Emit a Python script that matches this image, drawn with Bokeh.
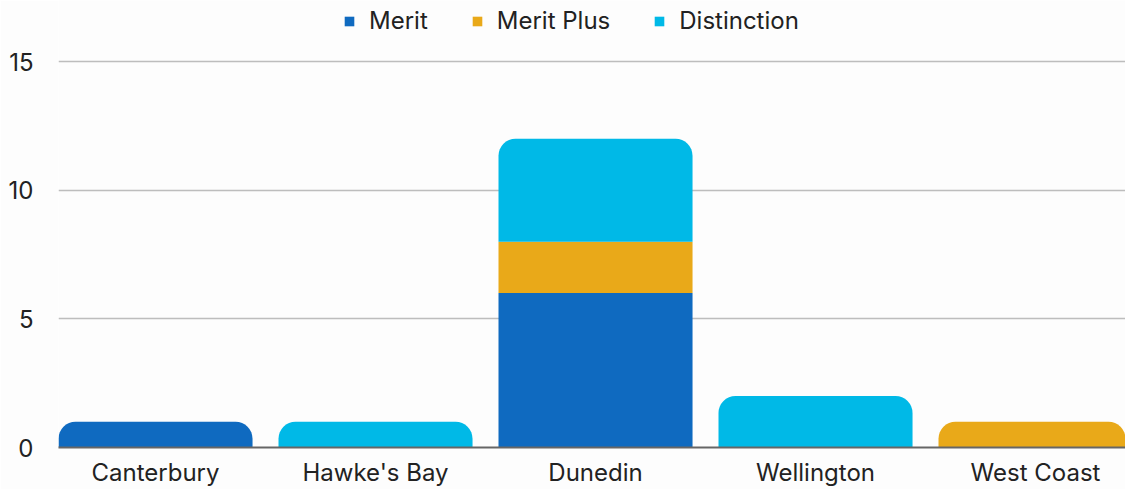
from bokeh.plotting import figure
from bokeh.models import ColumnDataSource, Range1d, FixedTicker, Legend, LegendItem
from bokeh.embed import file_html
from bokeh.resources import INLINE

regions = ["Canterbury", "Hawke's Bay", "Dunedin", "Wellington", "West Coast"]
series_names = ["Merit", "Merit Plus", "Distinction"]
merit = [1, 0, 6, 0, 0]
merit_plus = [0, 0, 2, 0, 1]
distinction = [0, 1, 4, 2, 0]
colors = ["#0F6AC0", "#E9A919", "#00B9E7"]
y_ticks = [0, 5, 10, 15]

FONT = "Inter"
W, H = 1125, 489
LEFT = 58
BOTTOM = 42
PX_PER_CAT = 220.0
PX_PER_UNIT = 25.73
x_start = -0.441
x_end = x_start + (W - LEFT) / PX_PER_CAT
y_end = (H - BOTTOM) / PX_PER_UNIT

p = figure(width=W, height=H, output_backend="svg", toolbar_location=None,
           x_range=Range1d(x_start, x_end), y_range=Range1d(0, y_end),
           min_border_left=LEFT, min_border_right=0, min_border_top=0,
           min_border_bottom=BOTTOM)
p.background_fill_color = "#fdfdfd"
p.border_fill_color = "#fdfdfd"
p.outline_line_color = None

values = [merit, merit_plus, distinction]
xs = list(range(len(regions)))
bottoms = [0.0] * len(regions)
legend_items = []
for s, (name, vals, col) in enumerate(zip(series_names, values, colors)):
    top_d = dict(x=[], bottom=[], top=[])
    in_d = dict(x=[], bottom=[], top=[])
    for i, v in enumerate(vals):
        if v <= 0:
            continue
        is_top = all(values[k][i] <= 0 for k in range(s + 1, len(values)))
        d = top_d if is_top else in_d
        d["x"].append(xs[i]); d["bottom"].append(bottoms[i]); d["top"].append(bottoms[i] + v)
        bottoms[i] += v
    rs = []
    if in_d["x"]:
        rs.append(p.vbar(x="x", bottom="bottom", top="top", width=0.882, source=ColumnDataSource(in_d),
                         fill_color=col, line_color=None))
    if top_d["x"]:
        rs.append(p.vbar(x="x", bottom="bottom", top="top", width=0.882, source=ColumnDataSource(top_d),
                         fill_color=col, line_color=None, border_radius=(17, 17, 0, 0)))
    legend_items.append(LegendItem(label=name, renderers=[rs[0]], index=0))

legend = Legend(items=legend_items, orientation="horizontal", location=(285, 412),
                glyph_width=12, glyph_height=12, label_standoff=14, spacing=43,
                label_text_font=FONT, label_text_font_size="24px", label_text_color="#222222",
                border_line_color=None, background_fill_alpha=0, padding=0, margin=0)
p.add_layout(legend)

p.xaxis.ticker = FixedTicker(ticks=xs)
p.xaxis.major_label_overrides = {i: r for i, r in enumerate(regions)}
p.xaxis.major_tick_line_color = None
p.xaxis.minor_tick_line_color = None
p.xaxis.axis_line_color = "#666666"
p.xaxis.axis_line_width = 2
p.xaxis.major_label_text_font = FONT
p.xaxis.major_label_text_font_size = "24px"
p.xaxis.major_label_text_color = "#222222"
p.xaxis.major_label_standoff = 4
p.xgrid.grid_line_color = None

p.yaxis.ticker = FixedTicker(ticks=y_ticks)
p.yaxis.axis_line_color = None
p.yaxis.major_tick_line_color = None
p.yaxis.minor_tick_line_color = None
p.yaxis.major_label_text_font = FONT
p.yaxis.major_label_text_font_size = "24px"
p.yaxis.major_label_text_color = "#222222"
p.yaxis.major_label_standoff = 19
p.ygrid.grid_line_color = "#bdbdbd"
p.ygrid.grid_line_width = 1.5

open("out.html", "w").write(file_html(p, INLINE))
